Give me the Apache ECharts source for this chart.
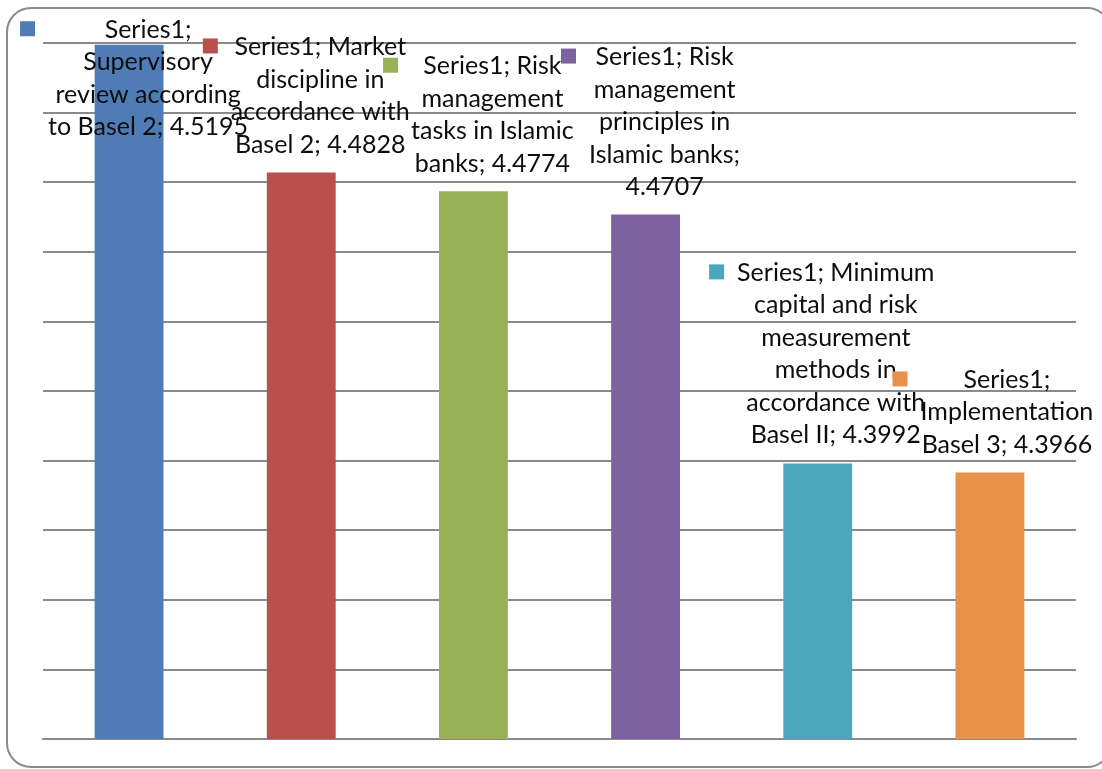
<!DOCTYPE html>
<html>
<head>
<meta charset="utf-8">
<title>Basel implementation scores</title>
<script src="https://cdn.jsdelivr.net/npm/echarts@6/dist/echarts.min.js"></script>
<style>
  html, body { margin: 0; padding: 0; background: #ffffff; }
  #chart { width: 1102px; height: 769px; }
</style>
</head>
<body>
<div id="chart"></div>
<script>
// Chart data
const seriesName = 'Series1';
const categories = [
  'Supervisory review according to Basel 2',
  'Market discipline in accordance with Basel 2',
  'Risk management tasks in Islamic banks',
  'Risk management principles in Islamic banks',
  'Minimum capital and risk measurement methods in accordance with Basel II',
  'Implementation Basel 3'
];
const values = [4.5195, 4.4828, 4.4774, 4.4707, 4.3992, 4.3966];
const barColors = ['#4F7CB5', '#B9504D', '#98B157', '#7D62A0', '#4BA7BE', '#E8914A'];

// Axis range (ticks are hidden, only gridlines are drawn)
const axisMin = 4.32;
const axisMax = 4.52;
const axisStep = 0.02;

// How many words go on each wrapped line of every data label
const labelWordsPerLine = [
  [1, 1, 2, 4],
  [2, 2, 2, 3],
  [2, 1, 3, 2],
  [2, 1, 2, 2, 1],
  [2, 3, 1, 2, 2, 3],
  [1, 1, 3]
];
// Label placement: text centre offset from bar centre, first-line centre offset from bar top
const labelOffsets = [
  [19, -15],
  [19, -125.5],
  [19, -125],
  [19, -157.5],
  [18, -190.5],
  [17, -92.5]
];

const FONT_FAMILY = 'Lato, "Open Sans", sans-serif';
const FONT_SIZE = 25;
const LINE_H = 32.5;
const FONT = FONT_SIZE + 'px ' + FONT_FAMILY;

function labelLines(i) {
  const words = (seriesName + '; ' + categories[i] + '; ' + values[i].toFixed(4)).split(' ');
  const lines = [];
  let k = 0;
  labelWordsPerLine[i].forEach(function (n) {
    lines.push(words.slice(k, k + n).join(' '));
    k += n;
  });
  if (k < words.length) lines.push(words.slice(k).join(' '));
  return lines;
}

const measureCtx = document.createElement('canvas').getContext('2d');
measureCtx.font = FONT;
function textWidth(s) { return measureCtx.measureText(s).width; }

const chart = echarts.init(document.getElementById('chart'), null, { renderer: 'canvas' });

chart.setOption({
  backgroundColor: '#ffffff',
  animation: false,
  graphic: [{
    type: 'rect',
    shape: { x: 7, y: 8, width: 1104, height: 759, r: 24 },
    style: { fill: 'none', stroke: '#8a8a8a', lineWidth: 2 },
    z: 0
  }],
  grid: { left: 43, right: 26, top: 43, bottom: 30 },
  xAxis: {
    type: 'category',
    data: categories,
    axisLine: { show: true, lineStyle: { color: '#8a8a8a', width: 2 } },
    axisTick: { show: false },
    axisLabel: { show: false }
  },
  yAxis: {
    type: 'value',
    min: axisMin,
    max: axisMax,
    interval: axisStep,
    axisLine: { show: false },
    axisTick: { show: false },
    axisLabel: { show: false },
    splitLine: { show: true, lineStyle: { color: '#8a8a8a', width: 2 } }
  },
  series: [
    {
      name: seriesName,
      type: 'bar',
      barWidth: '40%',
      data: values.map(function (v, i) {
        return { value: v, itemStyle: { color: barColors[i] } };
      }),
      z: 2
    },
    {
      // Data labels with their legend keys
      name: seriesName + ' labels',
      type: 'custom',
      data: values.map(function (v, i) { return [i, v]; }),
      z: 5,
      renderItem: function (params, api) {
        const i = params.dataIndex;
        const top = api.coord([api.value(0), api.value(1)]);
        const cx = top[0] + labelOffsets[i][0];
        const firstMid = top[1] + labelOffsets[i][1];
        const lines = labelLines(i);
        const blockW = Math.max.apply(null, lines.map(textWidth));
        return {
          type: 'group',
          children: [
            {
              type: 'text',
              style: {
                text: lines.join('\n'),
                x: cx,
                y: firstMid - LINE_H / 2,
                align: 'center',
                verticalAlign: 'top',
                font: FONT,
                lineHeight: LINE_H,
                fill: '#0d0d0d'
              }
            },
            {
              type: 'rect',
              shape: { x: cx - blockW / 2 - 28, y: firstMid - 8.5, width: 15, height: 15 },
              style: { fill: barColors[i] }
            }
          ]
        };
      }
    }
  ]
});
</script>
</body>
</html>
